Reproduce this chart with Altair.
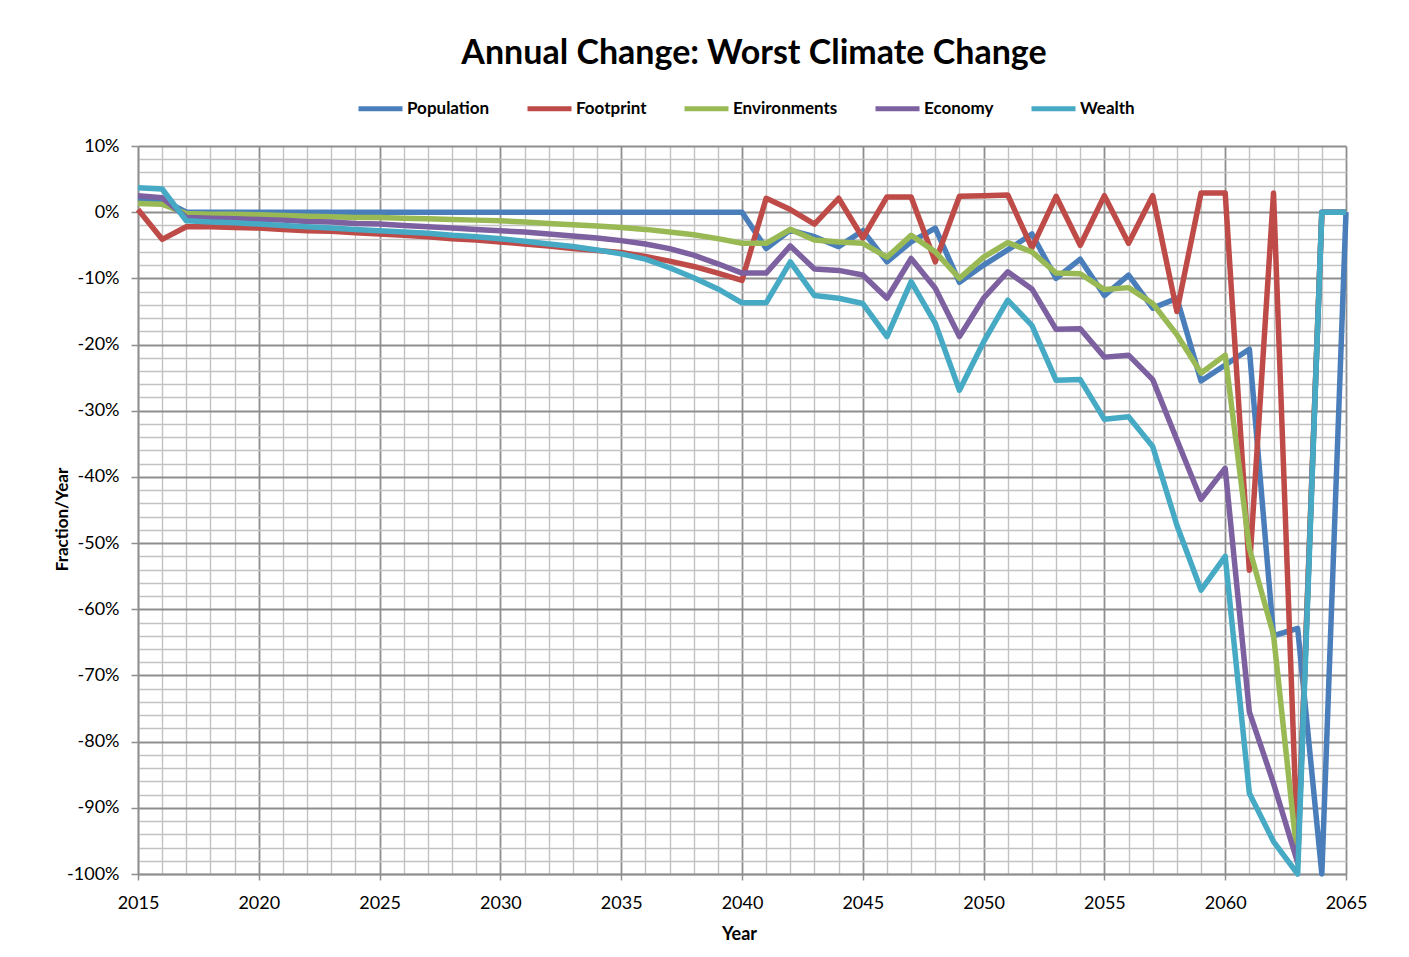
import altair as alt
import pandas as pd

years = list(range(2015, 2066))

series_names = ["Population", "Footprint", "Environments", "Economy", "Wealth"]
series_colors = ["#4A7EBB", "#BE4B48", "#98B954", "#7D60A0", "#46AAC5"]

population = [
    2.0, 1.9, 0, 0, 0,
    0, 0, 0, 0, 0, 0, 0, 0, 0, 0,
    0, 0, 0, 0, 0, 0, 0, 0, 0, 0,
    0, -5.5, -2.7, -3.7, -5.2, -2.8, -7.5, -4.5, -2.4, -10.6,
    -8.0, -5.7, -3.3, -10.0, -7.1, -12.6, -9.5, -14.5, -13.0, -25.5,
    -23.1, -20.7, -64.0, -62.9, -100, 0,
]
footprint = [
    0.4, -4.1, -2.2, -2.2, -2.3,
    -2.4, -2.6, -2.8, -2.9, -3.1, -3.3, -3.5, -3.7, -4.0, -4.2,
    -4.5, -4.8, -5.1, -5.5, -5.8, -6.1, -6.7, -7.4, -8.2, -9.2,
    -10.3, 2.1, 0.4, -1.8, 2.1, -3.9, 2.3, 2.3, -7.5, 2.4,
    2.5, 2.6, -5.4, 2.4, -5.0, 2.5, -4.7, 2.5, -15.0, 2.9,
    2.9, -54.1, 2.9, -97.0, 0, 0,
]
environments = [
    1.3, 1.2, -0.2, -0.3, -0.3,
    -0.4, -0.5, -0.6, -0.7, -0.8, -0.8, -0.9, -1.0, -1.1, -1.2,
    -1.3, -1.5, -1.7, -1.9, -2.1, -2.3, -2.6, -3.0, -3.4, -4.0,
    -4.7, -4.7, -2.6, -4.2, -4.5, -4.7, -6.8, -3.5, -6.0, -10.0,
    -6.8, -4.6, -6.0, -9.2, -9.3, -11.7, -11.4, -13.8, -18.5, -24.3,
    -21.6, -50.8, -63.9, -98.0, 0, 0,
]
economy = [
    2.5, 2.2, -0.8, -0.9, -1.0,
    -1.1, -1.2, -1.4, -1.5, -1.7, -1.8, -2.0, -2.2, -2.4, -2.6,
    -2.8, -3.0, -3.3, -3.6, -3.9, -4.3, -4.8, -5.5, -6.5, -7.8,
    -9.2, -9.2, -5.1, -8.6, -8.8, -9.5, -13.0, -7.0, -11.5, -18.8,
    -13.0, -9.0, -11.6, -17.7, -17.6, -21.9, -21.6, -25.3, -34.4, -43.4,
    -38.7, -75.5, -86.3, -98.3, 0, 0,
]
wealth = [
    3.7, 3.5, -1.3, -1.5, -1.6,
    -1.8, -2.0, -2.2, -2.4, -2.6, -2.8, -3.0, -3.2, -3.5, -3.7,
    -4.0, -4.4, -4.8, -5.2, -5.7, -6.3, -7.1, -8.4, -9.9, -11.6,
    -13.7, -13.7, -7.5, -12.6, -13.0, -13.8, -18.8, -10.5, -16.8, -26.9,
    -19.6, -13.3, -17.1, -25.4, -25.3, -31.3, -30.9, -35.4, -47.3, -57.1,
    -52.0, -87.8, -95.1, -100.0, 0, 0,
]

x_tick_values = list(range(2015, 2066))
y_tick_values = list(range(-100, 12, 2))

rows = []
for name, vals in zip(series_names, [population, footprint, environments, economy, wealth]):
    for yr, v in zip(years, vals):
        rows.append({"year": yr, "value": v, "series": name})
df = pd.DataFrame(rows)

FONT = "Lato"
MAJOR = "#8E8E8E"
MINOR = "#C2C2C2"

x_axis = alt.Axis(
    values=x_tick_values,
    labelExpr="datum.value % 5 === 0 ? '' + datum.value : ''",
    labelOverlap=False,
    labelFlush=False,
    labelFont=FONT,
    labelFontSize=18,
    labelColor="#000000",
    labelPadding=14,
    tickSize=6,
    tickColor=MAJOR,
    tickWidth=1.5,
    tickOpacity=alt.condition("datum.value % 5 === 0", alt.value(1), alt.value(0)),
    gridColor=alt.condition("datum.value % 5 === 0", alt.value(MAJOR), alt.value(MINOR)),
    gridWidth=alt.condition("datum.value % 5 === 0", alt.value(1.8), alt.value(1.4)),
    domainColor=MAJOR,
    domainWidth=1.5,
    title="Year",
    titleFont=FONT,
    titleFontSize=18,
    titleFontWeight="bold",
    titleColor="#000000",
    titleX=601,
    titleY=60,
    titleBaseline="middle",
)

y_axis = alt.Axis(
    values=y_tick_values,
    labelExpr="datum.value % 10 === 0 ? datum.value + '%' : ''",
    labelOverlap=False,
    labelFlush=False,
    labelFont=FONT,
    labelFontSize=18,
    labelColor="#000000",
    labelPadding=12,
    tickSize=7,
    tickColor=MAJOR,
    tickWidth=1.5,
    tickOpacity=alt.condition("datum.value % 10 === 0", alt.value(1), alt.value(0)),
    gridColor=alt.condition("datum.value % 10 === 0", alt.value(MAJOR), alt.value(MINOR)),
    gridWidth=alt.condition("datum.value % 10 === 0", alt.value(1.8), alt.value(1.4)),
    domainColor=MAJOR,
    domainWidth=1.5,
    title="Fraction/Year",
    titleFont=FONT,
    titleFontSize=17,
    titleFontWeight="bold",
    titleColor="#000000",
    titleAngle=270,
    titleX=-76,
    titleY=373,
    titleBaseline="middle",
    titleAlign="center",
)

color_scale = alt.Scale(domain=series_names, range=series_colors)

layers = []
for i, name in enumerate(series_names):
    legend = None
    if i == 0:
        legend = alt.Legend(
            orient="none",
            legendX=218,
            legendY=-62,
            direction="horizontal",
            title=None,
            symbolType="stroke",
            symbolSize=1936,
            symbolStrokeWidth=5,
            labelFont=FONT,
            labelFontSize=17,
            labelFontWeight="bold",
            labelColor="#000000",
            labelOffset=2,
            columnPadding=27,
        )
    layer = (
        alt.Chart(df)
        .transform_filter(alt.datum.series == name)
        .mark_line(strokeWidth=5.5, strokeJoin="round")
        .encode(
            x=alt.X("year:Q", scale=alt.Scale(domain=[2015, 2065], nice=False, zero=False), axis=x_axis),
            y=alt.Y("value:Q", scale=alt.Scale(domain=[-100, 10], nice=False), axis=y_axis),
            color=alt.Color("series:N", scale=color_scale, legend=legend),
        )
    )
    layers.append(layer)

chart = (
    alt.layer(*layers)
    .properties(
        width=1208,
        height=728,
        title=alt.TitleParams(
            text="Annual Change: Worst Climate Change",
            font=FONT,
            fontSize=34,
            fontWeight="bold",
            color="#000000",
            anchor="middle",
            offset=13,
            dx=12,
        ),
        padding={"left": 130, "top": 138, "right": 55, "bottom": 75},
        autosize=alt.AutoSizeParams(type="none"),
        background="#FFFFFF",
    )
    .configure_view(stroke=None)
)

chart.save("out.html", embed_options={"renderer": "svg", "actions": False})
